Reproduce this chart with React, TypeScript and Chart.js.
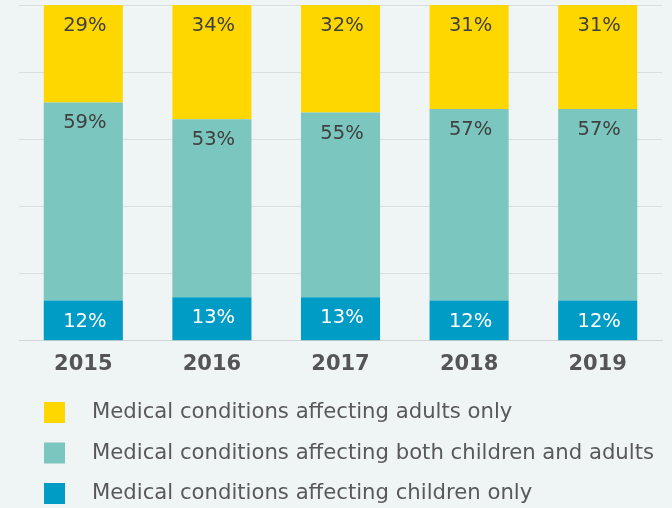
import React, { useEffect, useRef } from "react";
import { Chart, registerables } from "chart.js";

Chart.register(...registerables);

const years = ["2015", "2016", "2017", "2018", "2019"];
const childrenOnly = [12, 13, 13, 12, 12];
const bothChildrenAdults = [59, 53, 55, 57, 57];
const adultsOnly = [29, 34, 32, 31, 31];

const seriesLabels = [
  "Medical conditions affecting children only",
  "Medical conditions affecting both children and adults",
  "Medical conditions affecting adults only",
];
const seriesColors = ["#009CC5", "#7BC6BE", "#FFD700"];
const labelColors = ["#FFFFFF", "#404040", "#404040"];

const BG = "#EFF5F5";
const FONT = "'DejaVu Sans', Verdana, sans-serif";

export default function App() {
  const ref = useRef<HTMLCanvasElement | null>(null);

  useEffect(() => {
    document.body.style.margin = "0";
    document.body.style.background = BG;
    const canvas = ref.current;
    if (!canvas) return;

    const barLabels = {
      id: "barLabels",
      afterDatasetsDraw(chart: any) {
        const ctx = chart.ctx;
        ctx.save();
        ctx.font = `19.5px ${FONT}`;
        ctx.textAlign = "center";
        ctx.textBaseline = "middle";
        chart.data.datasets.forEach((ds: any, di: number) => {
          const meta = chart.getDatasetMeta(di);
          meta.data.forEach((el: any, i: number) => {
            ctx.fillStyle = labelColors[di];
            ctx.fillText(`${ds.data[i]}%`, el.x + 1.5, el.y + 21);
          });
        });
        ctx.restore();
      },
    };

    const customLegend = {
      id: "customLegend",
      afterDraw(chart: any) {
        const ctx = chart.ctx;
        ctx.save();
        ctx.font = `21.2px ${FONT}`;
        ctx.textBaseline = "middle";
        ctx.textAlign = "left";
        const order = [2, 1, 0];
        order.forEach((si, row) => {
          const cy = 412.5 + row * 40.5;
          ctx.fillStyle = seriesColors[si];
          ctx.fillRect(44, cy - 10.5, 21, 21);
          ctx.fillStyle = "#595959";
          ctx.fillText(seriesLabels[si], 92, cy);
        });
        ctx.restore();
      },
    };

    const bgPlugin = {
      id: "bg",
      beforeDraw(chart: any) {
        const ctx = chart.ctx;
        ctx.save();
        ctx.fillStyle = BG;
        ctx.fillRect(0, 0, chart.width, chart.height);
        ctx.restore();
      },
    };

    const chart = new Chart(canvas, {
      type: "bar",
      data: {
        labels: years,
        datasets: [
          { label: seriesLabels[0], data: childrenOnly, backgroundColor: seriesColors[0] },
          { label: seriesLabels[1], data: bothChildrenAdults, backgroundColor: seriesColors[1] },
          { label: seriesLabels[2], data: adultsOnly, backgroundColor: seriesColors[2] },
        ],
      },
      options: {
        animation: false,
        responsive: false,
        maintainAspectRatio: false,
        devicePixelRatio: 1,
        layout: { padding: { left: 19, right: 10, top: 5, bottom: 120 } },
        datasets: {
          bar: { categoryPercentage: 1, barPercentage: 0.615, borderWidth: 0 },
        },
        plugins: {
          legend: { display: false },
          tooltip: { enabled: false },
        },
        scales: {
          x: {
            stacked: true,
            grid: { display: false, drawTicks: false },
            border: { display: true, color: "#D0D4D4", width: 1 },
            ticks: {
              color: "#555555",
              font: { family: FONT, size: 21, weight: "bold" },
              padding: 11,
            },
          },
          y: {
            stacked: true,
            min: 0,
            max: 100,
            ticks: { display: false, stepSize: 20 },
            grid: { color: "#D9DEDE", lineWidth: 1, drawTicks: false },
            border: { display: false },
          },
        },
      },
      plugins: [bgPlugin, barLabels, customLegend],
    });

    return () => chart.destroy();
  }, []);

  return (
    <div style={{ width: 672, height: 508, background: BG }}>
      <canvas ref={ref} width={672} height={508} style={{ display: "block" }} />
    </div>
  );
}
